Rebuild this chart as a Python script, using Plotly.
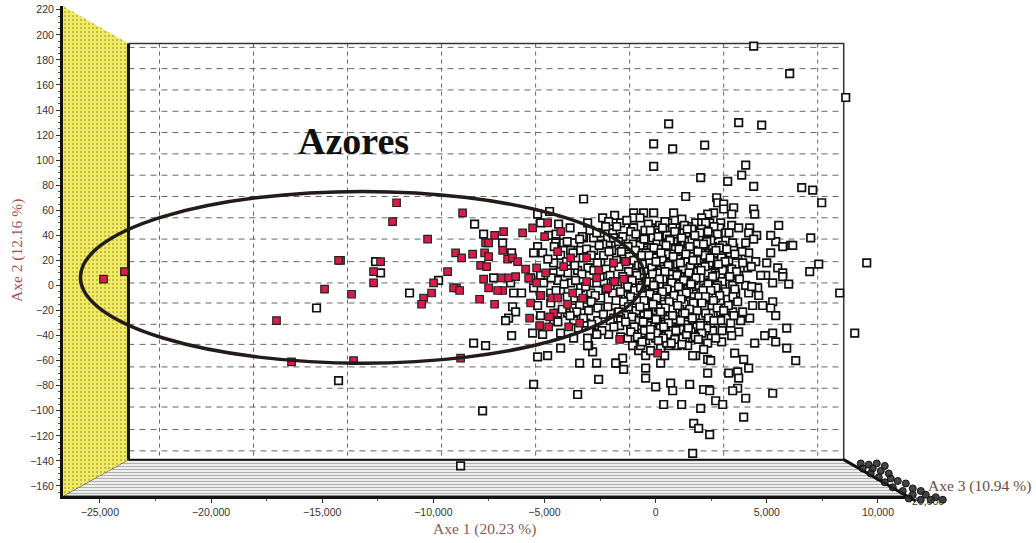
import plotly.graph_objects as go

other_x = [4410,6030,8550,585,3735,4770,-90,765,2205,-90,4050,2025,3240,3870,4410,6570,7065,7470,9495,8280,8955,7335,6930,6975,6075,5400,5535,
1350,2745,2790,3060,3510,3060,2610,2340,3420,4410,4455,2070,1800,2070,2430,2925,900,2880,3420,3735,4230,3150,4185,4545,5175,2115,2520,1710,1350,990,3150,4050,4410,5715,6165,3510,3015,5175,3690,4185,2790,3285,4500,4995,5490,5715,5715,4950,4140,3150,2520,3735,4590,5265,5985,3465,1575,2160,900,
1170,1575,1575,2115,2340,3240,3600,4185,4635,4815,5265,5175,5400,4230,3915,3465,2925,2475,2925,1935,1350,2025,2565,3735,3420,5895,4905,5265,5400,4455,2970,2700,2160,1215,1260,810,990,1440,2340,2160,5895,3555,1800,1665,3960,2340,2475,6300,4185,2340,3285,3690,3735,1530,3690,2385,675,
-3510,0,765,2160,2430,3465,4050,5265,2700,3015,360,1170,2025,3960,1710,1935,2430,1665,-8775,-7785,-14265,-5490,-15255,
-4860,-4275,-2835,-3015,-3420,-2655,-1755,-1485,-1440,-2565,-2115,-2655,-1260,-1035,-765,-630,-225,-450,585,225,-450,-450,
-3240,-4770,-5310,-8145,-7740,-6885,-6480,-12600,-12375,-9765,-11070,-7290,-6525,-6390,-6030,-6435,-6300,-6615,-6750,-6480,-8190,-7650,-5310,-5535,-5085,-5310,-5085,-5490,-5175,-4365,-4815,-4500,-4140,-3690,-3240,-2790,-2385,-1845,-2115,-1575,-990,-990,-540,-90,810,-1035,-2475,-3060,-2160,-1800,-2790,-2340,-3375,-3825,-4275,-4590,-5625,-5175,-4590,-3960,-3510,-2925,-2475,-1890,-1440,-1125,-5040,-4410,-3825,-3375,-2925,-2340,-1710,-1215,-5490,-5175,-4725,-4275,-3690,-2925,-2475,-1935,-1350,-810,-5310,-5175,-4410,-3960,-3690,-3015,-2475,-2025,-1440,-4590,-3690,-3150,-2610,-1890,-990,-4275,-3690,-3060,-3060,-1800,
180,540,-225,0,-990,-405,-675,-810,-90,405,-225,225,-810,-450,90,450,-360,-720,-135,360,540,
1125,675,315,1485,1800,1260,765,1710,2025,2430,945,1485,1935,2340,2700,1125,675,0,225,765,1170,1755,2115,2925,-90,225,585,900,1260,1800,2565,3015,-450,-675,-315,135,540,900,225,-225,-675,675,1035,1665,1665,450,0,-450,225,-225,405,-225,135,-585,-945,-855,-1215,-1575,-1935,-675,-1035,-225,2565,2250,2700,3150,3375,3825,4365,4050,4725,3915,3015,2565,2250,1575,1125,765,1485,2025,1800,2475,3015,90,495,-675,-1125,-1575,-1215,-450]
other_y = [191,169,150,129,130,128,113,109,112,95,96,86,83,88,79,78,76,66,18,-6,-38,17,11,38,32,35,48,
71,70,66,65,62,61,58,57,57,61,57,54,50,50,50,50,46,46,48,46,46,42,42,40,40,40,40,38,36,36,36,34,37,31,32,30,32,26,24,26,25,20,19,18,14,10,7,8,14,12,10,8,-2,2,1,0,2,2,14,
-16,-17,-10,-12,-12,-11,-6,-6,-8,-16,-13,-18,-24,-26,-21,-21,-21,-22,-28,-27,-27,-35,-36,-37,-40,-34,-40,-38,-45,-46,-45,-42,-42,-42,-34,-38,-48,-48,-46,-51,-50,-54,-56,-56,-59,-59,-60,-60,-66,-70,-70,-69,-74,-79,-82,-83,-78,
-87,-81,-84,-83,-84,-84,-90,-86,-92,-95,-95,-95,-98,-105,-110,-114,-119,-134,-144,-100,-76,-79,-18,
-56,-50,-53,-48,-62,-62,-62,-58,-67,-75,-39,-38,-42,-48,-52,-38,-38,-56,-48,-62,-66,-74,
69,59,57,49,41,34,26,19,10,4,-6,6,2,-6,-6,-17,-21,-26,-28,-40,-46,-48,-57,-38,-39,31,26,26,50,49,40,34,34,34,38,38,54,56,51,50,58,54,58,58,58,46,42,50,38,32,28,24,28,28,24,18,6,8,10,10,12,14,18,18,24,20,2,4,2,-2,2,2,-2,2,-2,-8,-6,-4,-10,-6,-10,-6,-8,-10,-16,-24,-22,-22,-18,-20,-18,-22,-18,-28,-28,-30,-28,-26,-22,-38,-42,-42,-48,-62,
48,50,46,44,46,34,38,32,34,34,26,26,24,18,10,10,8,2,0,0,18,
42,39,42,47,43,30,30,32,28,30,23,22,18,22,16,15,18,18,12,7,7,10,14,8,-10,-6,-10,-4,-6,-6,-2,-2,-8,-16,-20,-17,-18,-22,-26,-30,-28,-30,-34,-34,-42,-40,-42,-44,-50,-52,-56,36,22,12,10,18,28,36,42,-4,-12,16,4,-6,-10,-18,-30,-28,-16,0,8,18,24,31,36,36,2,-14,-22,-25,-16,-30,-34,-30,-46,-48,-34,-26,-12,-22]

core_x = [-1300,-700,420,1180,2250,-1750,-330,760,1290,2060,2620,-1120,-480,150,930,1630,2360,3300,-1480,-890,-120,510,1140,1950,2780,
-1670,-1010,-560,60,620,1300,1880,2480,3460,-1240,-700,-190,350,890,1450,2170,2860,-1540,-910,-430,120,700,1230,1690,2650,3200,3880,
-1180,-620,-60,480,1040,1580,2210,2960,3560,-1390,-980,-300,290,830,1320,1850,2420,3120,-1650,-770,-170,400,980,1560,2080,2760,3420,4300,
-1220,-520,70,640,1210,1890,2340,3010,3640,-1480,-850,-260,330,1000,1440,2010,2690,3330,-1710,-1060,-470,170,760,1330,1720,2410,2990,3770,
-1260,-610,-30,520,1090,1620,2260,2780,3560,4320,-1580,-940,-340,280,860,1490,2030,2620,3150,-1130,-560,40,620,1190,1730,2370,2880,3480,
-1440,-820,-250,390,940,1540,2120,2600,3690,-1220,-470,140,730,1280,2190,2770,3270,-1660,-880,-320,300,1080,1640,2250,3060,
-1070,-530,60,560,1210,1780,2380,3520,-1350,-740,-190,420,890,1410,2010,2620,-960,-380,210,780,1330,1860,2290,
-1120,-500,50,590,1100,1590,2070,2990,-820,-230,340,860,1390,1780,-610,120,700,1180,1920,
-240,310,860,1420,1990,-520,110,640,1170,1760,2300,-80,470,1050,1530,2150,2710,-300,240,790,1360,1900,2450,-600,20,570,1110,1680,2220,2820,
-140,420,960,1500,2040,2560,-420,170,720,1260,1810,2360,-680,-90,510,1030,1590,2130,2710,-260,300,830,1380,1940,2480,-520,40,610,1140,1700,2240,
-710,-120,440,990,1530,2080,-350,220,760,1320,1870,-560,10,580,1120,1650,-230,360,910,1470,2010]
core_y = [52,54,51,53,50,47,49,46,48,45,47,43,44,42,41,45,43,42,39,41,38,40,37,39,41,
35,33,36,34,37,35,33,36,34,31,32,30,33,29,31,32,30,27,28,26,29,25,27,28,26,29,27,
23,24,22,25,21,23,24,22,25,19,20,18,21,17,19,20,18,19,15,16,14,13,17,15,14,16,13,15,
11,12,10,9,13,11,10,12,11,7,8,6,5,9,7,6,8,7,3,4,2,1,5,3,4,2,3,5,
-1,0,-2,-3,1,-1,-2,0,-3,-1,-5,-4,-6,-7,-3,-5,-6,-4,-5,-9,-8,-10,-11,-7,-9,-10,-8,-9,
-13,-12,-14,-15,-11,-13,-14,-12,-13,-17,-16,-18,-19,-15,-17,-18,-16,-21,-20,-22,-23,-19,-21,-22,-20,
-25,-24,-26,-27,-23,-25,-26,-24,-29,-28,-30,-31,-27,-29,-30,-28,-33,-32,-34,-35,-31,-33,-34,
-37,-36,-38,-39,-35,-37,-38,-36,-41,-40,-42,-43,-39,-41,-45,-44,-46,-47,-43,
44,46,43,45,42,37,39,36,38,40,35,30,32,29,31,33,28,24,26,23,25,27,22,17,19,16,18,20,15,17,
9,11,8,10,12,7,3,5,2,4,6,1,-2,0,-3,-1,1,-4,-2,-7,-5,-8,-6,-9,-4,-12,-10,-13,-11,-14,-9,
-17,-15,-18,-16,-19,-14,-23,-21,-24,-22,-20,-29,-27,-30,-28,-26,-35,-33,-36,-34,-32]

mid_x = [-3850,-2950,-2250,-4480,-3300,-2650,-1900,-3980,-3420,-2380,-4560,-3110,-2540,-1980,-3720,-2900,-2100,-4850,-4010,-3260,-2620,-1760,
-3640,-3050,-2230,-4280,-3320,-2780,-2050,-4700,-3600,-2500,-1900,-4120,-3150,-2650,-4480,-3480,-2240,-3980,-3230,-2720,-1780,
-4720,-3420,-2900,-2150,-4200,-3550,-2600,-1680,-3850,-3250,-2350,-4400,-2880,-2040,-1620,-3480,-2420,-1880,-2650,-1580]
mid_y = [46,44,47,41,39,42,38,35,37,33,31,29,32,28,26,24,27,21,19,22,18,20,
16,14,13,11,9,12,8,6,4,7,3,1,-1,2,-4,-6,-3,-9,-11,-8,-12,
-14,-16,-13,-17,-19,-21,-18,-22,-24,-26,-23,-29,-31,-28,-32,-34,-36,-33,-39,-41]

azores_x = [-11655,-11835,-8685,-10260,-6840,-7245,-5985,-5535,-4860,-4275,-4995,-7650,-7515,-7695,-7515,-6885,-9000,-8730,-8235,-6660,-6435,-6210,-7875,-7605,-9360,-12690,-14175,-12375,-12690,-13680,-9990,-10080,-10440,-10530,-8955,-9090,-8820,-7740,-7515,-6930,-6615,-6300,-6885,-7110,-7920,-7245,-5850,-5355,-5715,-4950,-5355,-4410,-3825,-4140,-3105,-2565,-3105,-2655,-1845,-1440,-1350,-1890,-2160,-3735,-5175,-4680,-4410,-3285,-5625,-3960,-4590,-4770,-5670,-5220,-4815,-3915,-3420,-1620,90,-13590,-8775,-17055,-16380,-24840,-23895,-14895,-14265]
azores_y = [66,51,58,37,43,40,42,46,50,43,39,34,34,26,23,28,26,22,25,21,22,19,16,15,11,11,20,19,2,-7,2,-6,-10,-15,-2,-2,-4,5,-2,6,6,7,-4,-4,-11,-15,13,14,6,10,2,27,22,15,22,12,3,6,3,5,19,18,-2,-6,-8,-10,-10,-10,-14,-15,-22,-25,-26,-32,-33,-33,-30,-43,-54,-60,-58,-28,-61,5,11,-3,20]

depth_x = [9225,9585,9945,10305,9765,10125,9315,10485,9675,10035,10575,10890,10305,11250,10665,11565,11115,11925,11565,12150,12600,12375,12915,11925,11385]
depth_y = [-142,-143,-142,-144,-146,-148,-146,-150,-150,-153,-154,-156,-157,-158,-161,-162,-164,-164,-167,-167,-169,-171,-171,-171,-170]

x_ticks = [-25000,-20000,-15000,-10000,-5000,0,5000,10000]
y_ticks = list(range(-160,221,20))
grid_x = [-22320,-18090,-13860,-9630,-5400,-1170,3060,7290]
grid_y = [190,173,156,139,122,105,88,71,54,37,19,2,-14,-31,-47,-65,-82,-97,-115,-132]

wall_x = [-26660,-23715,-23715,-26660,-26660]
wall_y = [223,193,-139,-168,223]
floor_x = [-23715,8460,11216,-26660,-23715]
floor_y = [-139,-139,-168,-168,-139]
frame_x = [-23715,8460,8460]
frame_y = [193,193,-139]
edge_x = [8460,11700]
edge_y = [-139,-172]

# The plot is wider and taller than the main axes so the Axe 3 depth marks can run past them.
LEFT, RIGHT_EDGE, TOP, BOTTOM_EDGE = 63, 966, 6, 513
main_w, main_h = 842, 490
wide_w, wide_h = RIGHT_EDGE - LEFT, BOTTOM_EDGE - TOP
x_per_px = (11216 + 26660) / main_w
y_per_px = (223 + 168) / main_h

fig = go.Figure()
fig.add_trace(go.Scatter(x=floor_x,y=floor_y,mode="lines",fill="toself",line=dict(color="#222",width=1),
    fillpattern=dict(shape="-",size=3,solidity=0.4,fgcolor="#666",bgcolor="#f6f6f6"),fillcolor="#f6f6f6",showlegend=False))
fig.add_trace(go.Scatter(x=wall_x,y=wall_y,mode="none",fill="toself",
    fillpattern=dict(shape=".",size=4,solidity=0.2,fgcolor="#6a6a50",bgcolor="#f3eb5e"),fillcolor="#f3eb5e",showlegend=False))
for v in grid_x:
    fig.add_trace(go.Scatter(x=[v,v],y=[frame_y[0],frame_y[2]],mode="lines",line=dict(color="#666",width=1,dash="4px,4px"),showlegend=False))
for v in grid_y:
    fig.add_trace(go.Scatter(x=[frame_x[0],frame_x[1]],y=[v,v],mode="lines",line=dict(color="#666",width=1,dash="6px,5px"),showlegend=False))
fig.add_trace(go.Scatter(x=frame_x,y=frame_y,mode="lines",line=dict(color="#333",width=1.5),showlegend=False))
fig.add_trace(go.Scatter(x=[wall_x[1],wall_x[1]],y=[wall_y[1],wall_y[2]],mode="lines",line=dict(color="#111",width=3),showlegend=False))
fig.add_trace(go.Scatter(x=[floor_x[0],floor_x[1]],y=[floor_y[0],floor_y[1]],mode="lines",line=dict(color="#111",width=2),showlegend=False))
fig.add_trace(go.Scatter(x=edge_x,y=edge_y,xaxis="x2",yaxis="y2",mode="lines",line=dict(color="#111",width=3),showlegend=False))
fig.add_trace(go.Scatter(x=depth_x,y=depth_y,xaxis="x2",yaxis="y2",mode="markers",showlegend=False,
    marker=dict(symbol="circle",size=7,color="rgba(35,35,35,0.85)",line=dict(color="#111",width=1))))
fig.add_trace(go.Scatter(x=other_x+mid_x+core_x,y=other_y+mid_y+core_y,mode="markers",cliponaxis=False,showlegend=False,
    marker=dict(symbol="square",size=7.5,color="#ffffff",line=dict(color="#111",width=1.7))))
fig.add_trace(go.Scatter(x=azores_x,y=azores_y,mode="markers",cliponaxis=False,showlegend=False,
    marker=dict(symbol="square",size=7.5,color="#dd1a48",line=dict(color="#222",width=1.2))))

fig.add_shape(type="circle",xref="x",yref="y",x0=-25875,x1=-495,y0=-62,y1=75,line=dict(color="#231a1a",width=3.5))
fig.add_annotation(x=-13590,y=115,text="<b>Azores</b>",showarrow=False,font=dict(family="Liberation Serif",size=38,color="#111"))
fig.add_annotation(xref="paper",yref="paper",x=(926-LEFT)/wide_w,y=(BOTTOM_EDGE-486)/wide_h,xanchor="left",yanchor="middle",text="Axe 3 (10.94 %)",showarrow=False,
    font=dict(family="Liberation Serif",size=15.5,color="#6b4a4a"))
fig.add_annotation(xref="paper",yref="paper",x=(928-LEFT)/wide_w,y=(BOTTOM_EDGE-501)/wide_h,xanchor="center",yanchor="middle",text="20,000",showarrow=False,
    font=dict(family="Liberation Sans",size=10.5,color="#333"))
fig.add_annotation(xref="paper",yref="paper",x=(484-LEFT)/wide_w,y=(BOTTOM_EDGE-529)/wide_h,xanchor="center",yanchor="middle",text="Axe 1 (20.23 %)",showarrow=False,
    font=dict(family="Liberation Serif",size=15.5,color="#8a5a5a"))
fig.add_annotation(xref="paper",yref="paper",x=(17-LEFT)/wide_w,y=(BOTTOM_EDGE-251)/wide_h,xanchor="center",yanchor="middle",textangle=-90,text="Axe 2 (12.16 %)",showarrow=False,
    font=dict(family="Liberation Serif",size=15.5,color="#a05050"))

fig.update_layout(width=1036,height=543,margin=dict(l=LEFT,r=1036-RIGHT_EDGE,t=TOP,b=543-BOTTOM_EDGE,autoexpand=False),paper_bgcolor="white",plot_bgcolor="rgba(0,0,0,0)",
    showlegend=False,font=dict(family="Liberation Sans",size=10.5,color="#333"),
    xaxis=dict(domain=[0,main_w/wide_w],anchor="y",range=[-26660,11216],tickvals=x_ticks,tickformat=",d",showgrid=False,zeroline=False,showline=True,linewidth=3,linecolor="#111",
        ticks="outside",ticklen=4,tickcolor="#333",tickfont=dict(family="Liberation Sans",size=10.5,color="#333"),
        minor=dict(ticks="outside",dtick=2500,ticklen=2,tickcolor="#555")),
    yaxis=dict(domain=[(wide_h-main_h)/wide_h,1],anchor="x",range=[-168,223],tickvals=y_ticks,showgrid=False,zeroline=False,showline=True,linewidth=3,linecolor="#111",
        ticks="outside",ticklen=4,tickcolor="#333",tickfont=dict(family="Liberation Sans",size=10.5,color="#333"),
        minor=dict(ticks="outside",dtick=5,ticklen=2,tickcolor="#555")),
    xaxis2=dict(domain=[0,1],anchor="y2",visible=False,range=[-26660,-26660+wide_w*x_per_px]),
    yaxis2=dict(domain=[0,1],anchor="x2",visible=False,range=[223-wide_h*y_per_px,223]))
fig.write_html("out.html",config=dict(displayModeBar=False),post_script="document.body.style.margin='0';")
